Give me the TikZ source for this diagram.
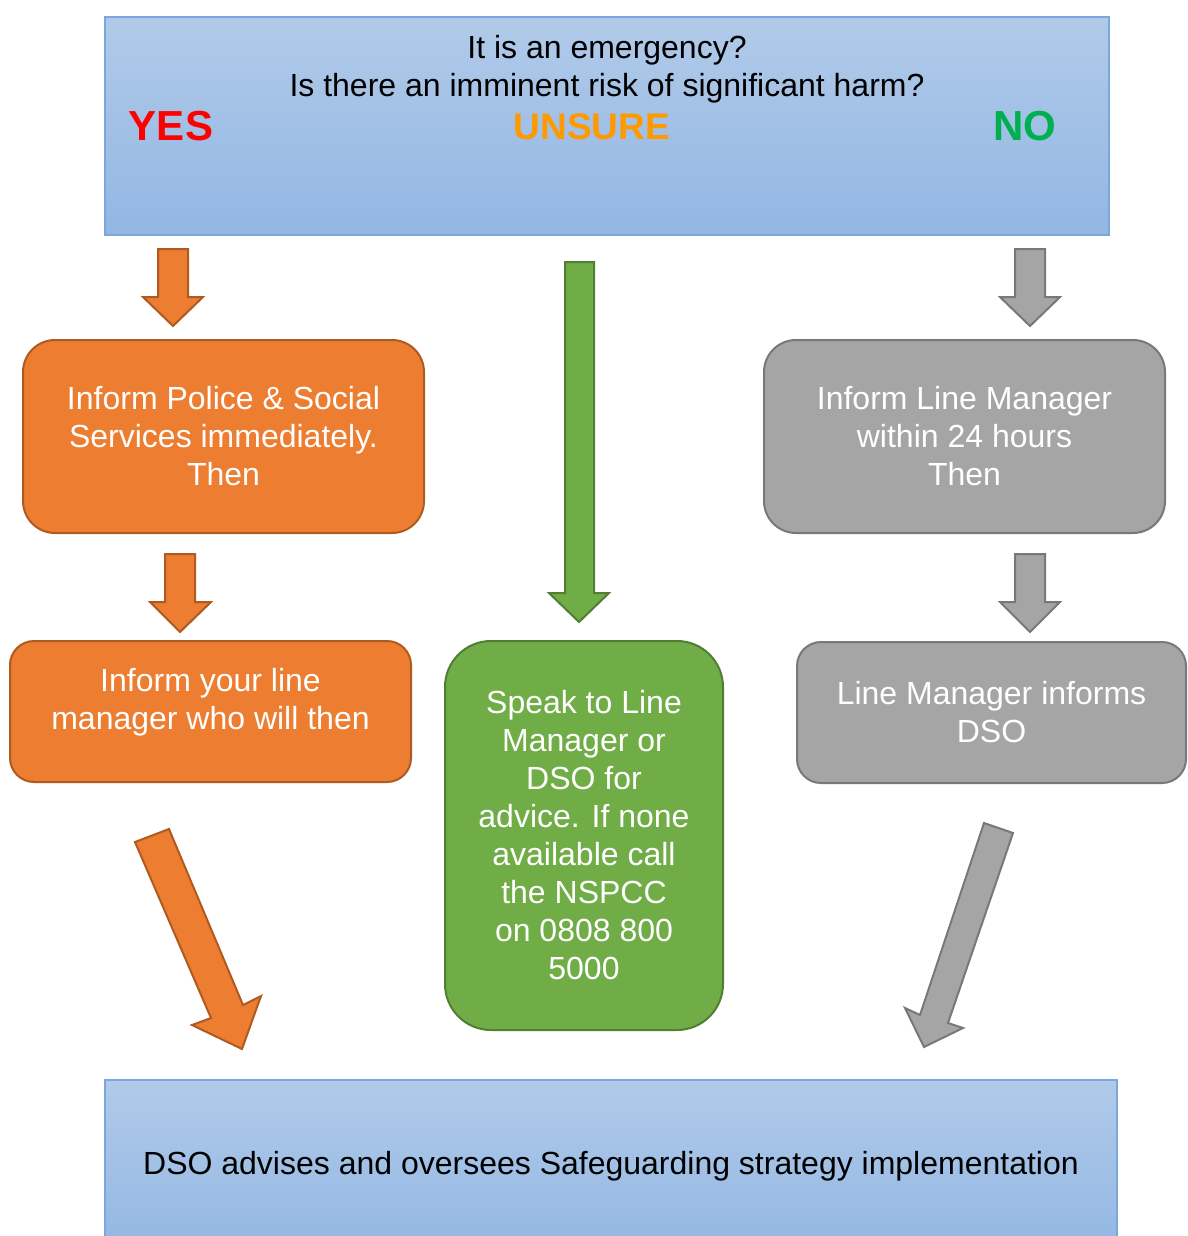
\documentclass[tikz,border=0pt]{standalone}
\usepackage{fontspec}
\setmainfont{Liberation Sans}

\definecolor{boxorange}{HTML}{ED7D31}
\definecolor{lineorange}{HTML}{AE5A21}
\definecolor{boxgrey}{HTML}{A5A5A5}
\definecolor{linegrey}{HTML}{787878}
\definecolor{boxgreen}{HTML}{70AD47}
\definecolor{linegreen}{HTML}{507E32}
\definecolor{bluetop}{HTML}{B1CAE9}
\definecolor{bluebot}{HTML}{92B7E3}
\definecolor{blueline}{HTML}{7BA6DE}
\definecolor{yesred}{HTML}{FF0000}
\definecolor{unsureorange}{HTML}{FF9900}
\definecolor{nogreen}{HTML}{00B050}

\newcommand{\boxfont}{\fontsize{32}{38}\selectfont}
\newcommand{\answerfont}{\fontsize{37}{44}\selectfont\bfseries}
\newcommand{\bigansfont}{\fontsize{42}{50}\selectfont\bfseries}

\begin{document}
\begin{tikzpicture}[x=1pt, y=-1pt,
    bluebox/.style={draw=blueline, line width=1.5pt, top color=bluetop, bottom color=bluebot},
    orangebox/.style={draw=lineorange, line width=2pt, fill=boxorange, text=white, font=\boxfont, align=center},
    greybox/.style={draw=linegrey, line width=2pt, fill=boxgrey, text=white, font=\boxfont, align=center},
    greenbox/.style={draw=linegreen, line width=2pt, fill=boxgreen, text=white, font=\boxfont, align=center},
    orangearrow/.style={draw=lineorange, line width=2pt, fill=boxorange, line join=miter},
    greyarrow/.style={draw=linegrey, line width=2pt, fill=boxgrey, line join=miter},
    greenarrow/.style={draw=linegreen, line width=2pt, fill=boxgreen, line join=miter}]
    \useasboundingbox (0,0) rectangle (1187,1236);
    % Question
    \node[bluebox, minimum width=1004pt, minimum height=218pt] (question) at (607,126) {};
    \node[font=\boxfont, align=center] (qtext) at (607,69)
        {It is an emergency?\\Is there an imminent risk of significant harm?};
    \node[font=\bigansfont, text=yesred] (yes) at (171,126) {YES};
    \node[font=\answerfont, text=unsureorange] (unsure) at (592,127) {UNSURE};
    \node[font=\bigansfont, text=nogreen] (no) at (1025,126) {NO};
    % YES column
    \draw[orangearrow] (158,249) -- (188,249) -- (188,297) -- (203,297) -- (173,326)
        -- (143,297) -- (158,297) -- cycle;
    \node[orangebox, minimum width=401pt, minimum height=193pt, rounded corners=32pt] (police)
        at (223.5,436.5) {Inform Police \& Social\\Services immediately.\\Then};
    \draw[orangearrow] (165,554) -- (195,554) -- (195,602) -- (211,602) -- (180,632)
        -- (150,602) -- (165,602) -- cycle;
    \node[orangebox, minimum width=401pt, minimum height=141pt, rounded corners=24pt] (yourline)
        at (210.5,711.5) {};
    \node[font=\boxfont, text=white, align=center] (yourlinetext) at (210.5,702)
        {Inform your line\\manager who will then};
    \draw[orangearrow] (135,842) -- (169,829) -- (243,1005) -- (261,996) -- (242,1049)
        -- (192,1025) -- (211,1018) -- cycle;
    % UNSURE column
    \draw[greenarrow] (565,262) -- (594,262) -- (594,593) -- (609,593) -- (579,622)
        -- (549,593) -- (565,593) -- cycle;
    \node[greenbox, minimum width=278pt, minimum height=389pt, rounded corners=46pt] (speak)
        at (584,835.5) {Speak to Line\\Manager or\\DSO for\\advice. If none\\available call\\the NSPCC\\on 0808 800\\5000};
    % NO column
    \draw[greyarrow] (1015,249) -- (1045,249) -- (1045,297) -- (1060,297) -- (1030,326)
        -- (1000,297) -- (1015,297) -- cycle;
    \node[greybox, minimum width=401pt, minimum height=193pt, rounded corners=32pt] (manager)
        at (964.5,436.5) {Inform Line Manager\\within 24 hours\\Then};
    \draw[greyarrow] (1015,554) -- (1045,554) -- (1045,602) -- (1060,602) -- (1030,632)
        -- (1000,602) -- (1015,602) -- cycle;
    \node[greybox, minimum width=389pt, minimum height=141pt, rounded corners=24pt] (informs)
        at (991.5,712.5) {Line Manager informs\\DSO};
    \draw[greyarrow] (984,823) -- (1013,833) -- (948,1023) -- (963,1028) -- (924,1047)
        -- (905,1008) -- (920,1015) -- cycle;
    % DSO
    \node[bluebox, minimum width=1012pt, minimum height=172pt, font=\boxfont] (dso)
        at (611,1166) {DSO advises and oversees Safeguarding strategy implementation};
\end{tikzpicture}
\end{document}
